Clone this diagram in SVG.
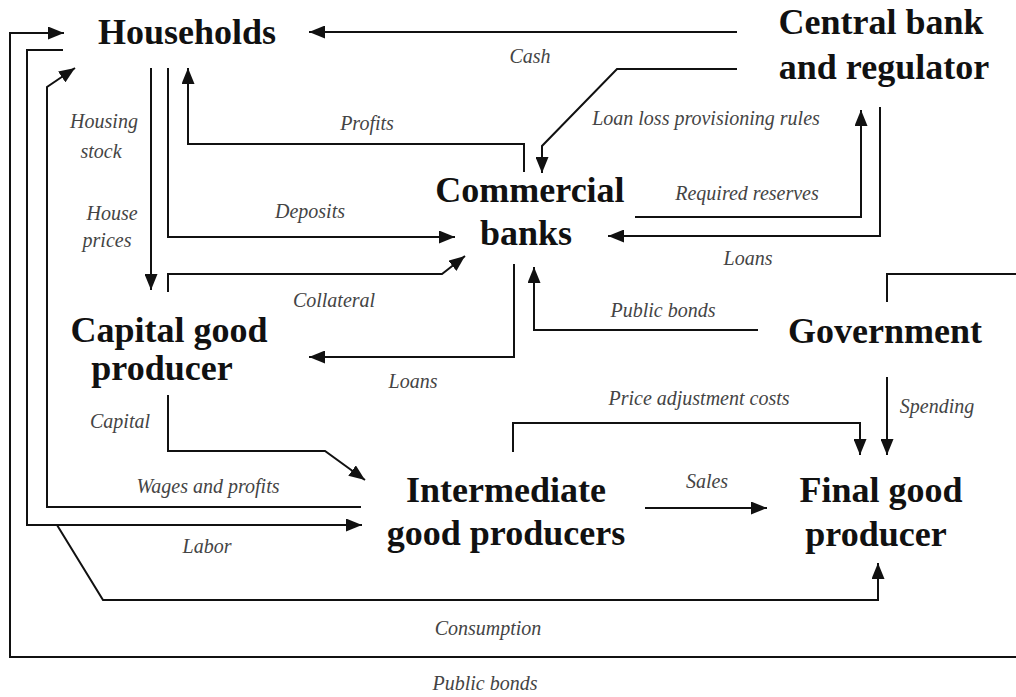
<svg xmlns="http://www.w3.org/2000/svg" width="1016" height="697" viewBox="0 0 1016 697">
<style>
.node{font-family:"Liberation Serif","Times New Roman",serif;font-weight:bold;font-size:36px;fill:#111;text-anchor:middle}
.lbl{font-family:"Liberation Serif","Times New Roman",serif;font-style:italic;font-size:20px;fill:#444;text-anchor:middle}
.c{fill:none;stroke:#111;stroke-width:2}
.a{marker-end:url(#ah)}
</style>
<defs>
<marker id="ah" viewBox="0 0 16 13" refX="16" refY="6.5" markerWidth="16" markerHeight="13" orient="auto" markerUnits="userSpaceOnUse">
<path d="M0,0 L16,6.5 L0,13 z" fill="#111"/>
</marker>
</defs>
<rect width="1016" height="697" fill="#fff"/>
<g id="connectors">
<path class="c a" d="M737,32 H309"/>
<path class="c a" d="M737,69 H617 L542,146 V173"/>
<path class="c a" d="M524,172 V144 H188 V68"/>
<path class="c a" d="M635,217 H861 V110"/>
<path class="c a" d="M880,107 V236 H608"/>
<path class="c a" d="M151,68 V290"/>
<path class="c a" d="M168,68 V237 H455"/>
<path class="c a" d="M168,292 V274 H442 L465,256"/>
<path class="c a" d="M514,264 V357 H309"/>
<path class="c a" d="M758,330 H534 V267"/>
<path class="c a" d="M887,302 V274 H1030 V657 H10 V33 H64"/>
<path class="c a" d="M887,377 V455"/>
<path class="c a" d="M513,452 V423 H860 V455"/>
<path class="c a" d="M645,508 H767"/>
<path class="c a" d="M168,395 V451 H325 L365,480"/>
<path class="c a" d="M361,507 H47 V87 L75,68"/>
<path class="c a" d="M63,50 H27 V525 H362"/>
<path class="c a" d="M57,525 L103,600 H878 V563"/>
</g>
<g id="edge-labels">
<text class="lbl" x="530" y="63">Cash</text>
<text class="lbl" x="367" y="130">Profits</text>
<text class="lbl" x="706" y="125">Loan loss provisioning rules</text>
<text class="lbl" x="104" y="128">Housing</text>
<text class="lbl" x="101" y="158">stock</text>
<text class="lbl" x="112" y="220">House</text>
<text class="lbl" x="107" y="247">prices</text>
<text class="lbl" x="310" y="218">Deposits</text>
<text class="lbl" x="747" y="200">Required reserves</text>
<text class="lbl" x="748" y="265">Loans</text>
<text class="lbl" x="334" y="307">Collateral</text>
<text class="lbl" x="663" y="317">Public bonds</text>
<text class="lbl" x="413" y="388">Loans</text>
<text class="lbl" x="699" y="405">Price adjustment costs</text>
<text class="lbl" x="937" y="413">Spending</text>
<text class="lbl" x="120" y="428">Capital</text>
<text class="lbl" x="208" y="493">Wages and profits</text>
<text class="lbl" x="707" y="488">Sales</text>
<text class="lbl" x="207" y="553">Labor</text>
<text class="lbl" x="488" y="635">Consumption</text>
<text class="lbl" x="485" y="690">Public bonds</text>
</g>
<g id="households"><text class="node" x="187" y="44">Households</text></g>
<g id="central-bank"><text class="node" x="881" y="34">Central bank</text><text class="node" x="884" y="79">and regulator</text></g>
<g id="commercial-banks"><text class="node" x="530" y="202">Commercial</text><text class="node" x="526" y="245">banks</text></g>
<g id="capital-good-producer"><text class="node" x="169" y="342">Capital good</text><text class="node" x="162" y="380">producer</text></g>
<g id="government"><text class="node" x="885" y="343">Government</text></g>
<g id="intermediate-good-producers"><text class="node" x="506" y="502">Intermediate</text><text class="node" x="506" y="545">good producers</text></g>
<g id="final-good-producer"><text class="node" x="881" y="502">Final good</text><text class="node" x="876" y="546">producer</text></g>
</svg>
